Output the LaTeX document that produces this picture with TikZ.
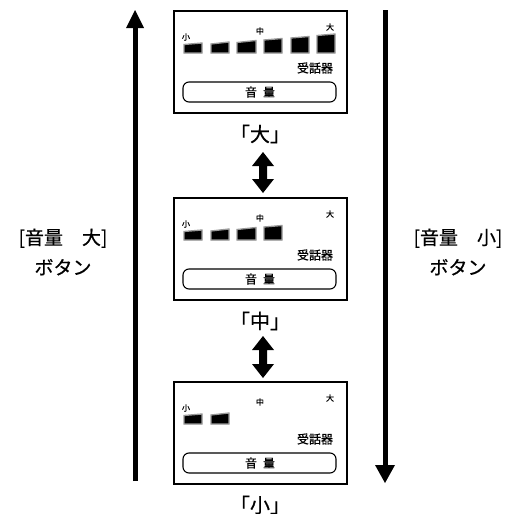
\documentclass[tikz,border=0pt]{standalone}
\usepackage{fontspec}
\setmainfont{Noto Sans CJK JP}[BoldFont={Noto Sans CJK JP}, BoldFeatures={FakeBold=0.6}]
\tikzset{
  panelbox/.style={draw, line width=1.8pt},
  volbar/.style={fill=black, draw=black!40, line width=1.3pt},
  tinylbl/.style={font=\fontsize{8}{8}\selectfont\bfseries, inner sep=0pt},
  midlbl/.style={font=\fontsize{12}{12}\selectfont\bfseries, inner sep=0pt},
  biglbl/.style={font=\fontsize{20}{20}\selectfont\bfseries, inner sep=0pt},
  sidelbl/.style={font=\fontsize{19}{30}\selectfont\bfseries, align=center, inner sep=0pt},
  volpill/.style={draw, line width=1.1pt, rounded corners=6pt},
}
\newcommand\volpanel[4]{% #1 name, #2 y offset, #3 bars, #4 label
\begin{scope}[shift={(0,#2)}]
  \draw[panelbox] (174,11) rectangle (347,113);
  \foreach \xa/\xb/\ta/\tb in {#3}{
    \draw[volbar] (\xa,53) -- (\xa,\ta) -- (\xb,\tb) -- (\xb,53) -- cycle;
  }
  \node[tinylbl] (s#1) at (186,37) {小};
  \node[tinylbl] (m#1) at (260,31) {中};
  \node[tinylbl] (b#1) at (330,27) {大};
  \node[midlbl] (r#1) at (315,68) {受話器};
  \draw[volpill] (183,82) rectangle (336,102);
  \node[midlbl] (v#1) at (260,92) {音\hspace{0.5em}量};
  \node[biglbl] (L#1) at (260,134) {「#4」};
\end{scope}}
\begin{document}
\begin{tikzpicture}[x=1pt, y=-1pt]
\useasboundingbox (0,0) rectangle (520,514);
\fill[white] (0,0) rectangle (520,514);
\volpanel{A}{0}{184/202/44.5/43, 211/229/44/42, 237/256/42.5/40.5, 264/282/40/38.5, 291/309/38/36.5, 317/335/35.5/34}{大}
\volpanel{B}{187}{184/202/44.5/43, 211/229/44/42, 237/256/42.5/40.5, 264/282/40/38.5}{中}
\volpanel{C}{371}{184/202/44.5/43, 211/229/44/42}{小}
% double arrows
\foreach \ya/\yb in {152/193, 336/378}{
  \fill (263,\ya) -- (274,\ya+14) -- (267,\ya+14) -- (267,\yb-14) -- (274,\yb-14)
        -- (263,\yb) -- (252,\yb-14) -- (259,\yb-14) -- (259,\ya+14) -- (252,\ya+14) -- cycle;
}
% long arrows
\coordinate (upS) at (135,481);
\coordinate (upE) at (135,27);
\draw[line width=5pt] (upS) -- (upE);
\fill (135,10) -- (144,28) -- (126,28) -- cycle;
\coordinate (dnS) at (385,10);
\coordinate (dnE) at (385,466);
\draw[line width=5pt] (dnS) -- (dnE);
\fill (385,483) -- (395,465) -- (375,465) -- cycle;
% side labels
\node[sidelbl] (upL) at (63,252) {[音量　大]\\ボタン};
\node[sidelbl] (dnL) at (458,252) {[音量　小]\\ボタン};
\end{tikzpicture}
\end{document}
